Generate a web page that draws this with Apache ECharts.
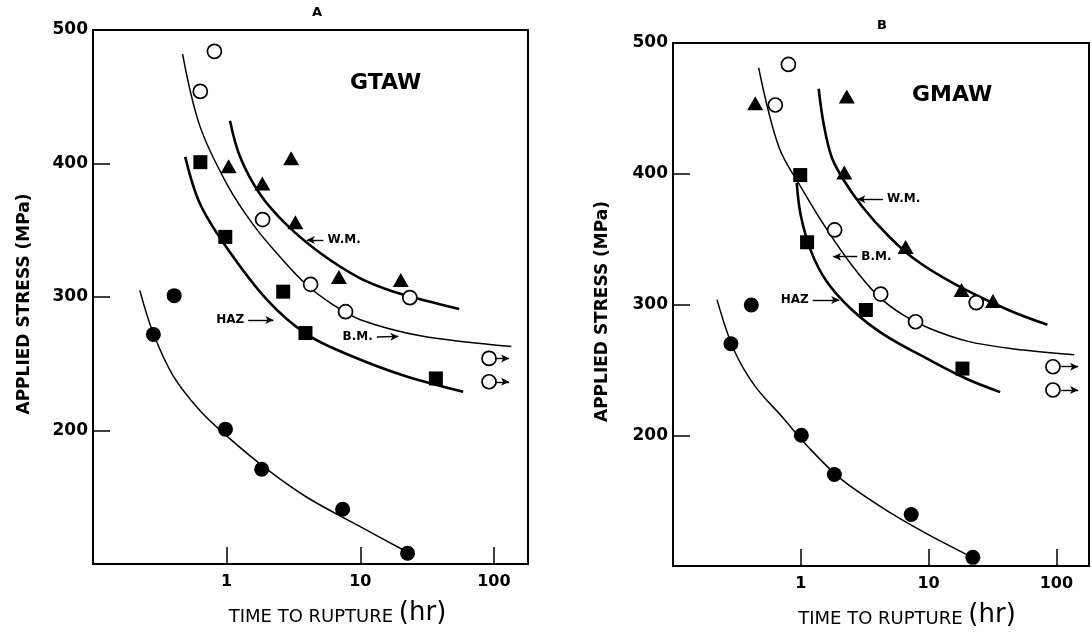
<!DOCTYPE html>
<html><head><meta charset="utf-8">
<script src="https://cdn.jsdelivr.net/npm/echarts@6/dist/echarts.min.js"></script>
<style>html,body{margin:0;padding:0;background:#fff}#c{width:1092px;height:635px}</style>
</head><body><div id="c"></div>
<script>
// ---------- tick labels ----------
const xTickLabels = [1, 10, 100];
const yTickLabels = [200, 300, 400, 500];
const panelTitles = ['A', 'B'];
const processNames = ['GTAW', 'GMAW'];

// ---------- Panel A (GTAW) : [time to rupture (hr), stress (MPa)] ----------
const aBaseMetal   = [[0.81,484],[0.635,454],[1.86,358],[4.25,309.5],[7.76,289],[23.5,299.5]];
const aBaseRunout  = [[92,254],[92,236.5]];
const aWeldMetal   = [[1.035,398],[3.04,404],[1.85,385],[3.27,356],[6.92,315],[20.1,312.7]];
const aHAZ         = [[0.636,401],[0.977,345],[2.65,304],[3.89,273],[36.8,239]];
const aFilled      = [[0.405,301],[0.283,272],[0.98,201],[1.83,171],[7.38,141],[22.6,108]];
const aHAZCurve    = [[0.49,405],[0.631,370],[1.0,337],[2.0,298],[3.98,272],[8.5,256],[21.4,241],[58.9,229]];
const aBaseCurve   = [[0.468,482],[0.631,428],[1.0,385],[1.585,354],[2.51,330],[3.98,309],[6.31,294],[10,283],[28.2,271],[135,263]];
const aWeldCurve   = [[1.06,432],[1.26,405],[1.78,377],[2.82,354],[5.01,333],[10,314],[17.8,304],[31.6,297],[55,291]];
const aFilledCurve = [[0.224,305],[0.282,273],[0.398,241],[0.631,215],[1.0,196],[2.0,171],[3.98,150],[10,128],[22.4,109]];
const aNotes = [
  {text:'W.M.', from:[5.3,342.7],  to:[3.98,342.7]},
  {text:'HAZ',  from:[1.45,282.8], to:[2.24,282.8]},
  {text:'B.M.', from:[13.3,270],   to:[19.3,270.5]},
  {text:'',     from:[102,254],    to:[130,254]},
  {text:'',     from:[102,236.5],  to:[130,236.5]}
];

// ---------- Panel B (GMAW) ----------
const bBaseMetal   = [[0.80,483.6],[0.632,452.6],[1.84,357],[4.22,308],[7.91,286.8],[23.6,301.4]];
const bBaseRunout  = [[94,252.4],[94,234.6]];
const bWeldMetal   = [[0.44,454],[2.29,459],[2.19,401],[6.61,344],[18.1,311],[31.9,302.7]];
const bHAZ         = [[0.99,399],[1.12,347.6],[3.23,295.8],[18.4,251]];
const bFilled      = [[0.41,299.6],[0.284,270],[1.01,200],[1.83,170],[7.31,139.4],[22.2,106.6]];
const bHAZCurve    = [[0.929,393],[1.0,368],[1.2,341],[1.585,318],[2.51,296],[4.47,277],[10,258],[20,243],[36.3,233]];
const bBaseCurve   = [[0.468,481],[0.676,420],[1.0,390],[1.585,358],[2.51,330],[3.98,307],[6.31,292],[10,282],[20,272],[46.8,266],[138,261.5]];
const bWeldCurve   = [[1.38,465],[1.51,438],[1.74,413],[2.14,396],[3.02,375],[4.9,352],[7.94,334],[15.8,316],[41.7,296],[85.1,284.5]];
const bFilledCurve = [[0.221,303.7],[0.299,265.6],[0.435,238],[0.716,214],[1.11,192.4],[2.07,166.5],[5.28,139.4],[9.87,124.2],[20.8,107.8]];
const bNotes = [
  {text:'W.M.', from:[4.4,380.5],  to:[2.77,380.5]},
  {text:'B.M.', from:[2.77,336.6], to:[1.79,336.6]},
  {text:'HAZ',  from:[1.24,303.4], to:[2.0,303.4]},
  {text:'',     from:[109,252.4],  to:[148,252.4]},
  {text:'',     from:[109,234.6],  to:[148,234.6]}
];

const FONT = 'DejaVu Sans';
const chart = echarts.init(document.getElementById('c'), null, {renderer:'canvas'});

const grids = [
  {left:93,  top:30, width:435, height:534, show:true, borderColor:'#000', borderWidth:2},
  {left:673, top:43, width:418, height:523, show:true, borderColor:'#000', borderWidth:2}
];

function xAxis(gi, padLeft){
  return {
    type:'log', logBase:10, gridIndex:gi, min:0.1, max:180,
    name:'{a|TIME TO RUPTURE }{b|(hr)}', nameLocation:'middle', nameGap:36,
    nameTextStyle:{padding:[0,0,0,padLeft], rich:{
      a:{fontFamily:FONT, fontSize:18, color:'#000', verticalAlign:'bottom'},
      b:{fontFamily:FONT, fontSize:26, color:'#000', verticalAlign:'bottom'}}},
    axisLine:{show:true, onZero:false, lineStyle:{color:'#000', width:2}},
    axisTick:{show:true, inside:true, length:17, lineStyle:{color:'#000', width:1.5}},
    minorTick:{show:false}, splitLine:{show:false},
    axisLabel:{margin:10, color:'#000', fontFamily:FONT, fontSize:16, fontWeight:'bold',
      formatter:function(v){ const t = xTickLabels.find(t => Math.abs(v - t)/t < 1e-3); return t ? String(t) : ''; }}
  };
}
function yAxis(gi, gap){
  return {
    type:'value', gridIndex:gi, min:100, max:500, interval:100,
    name:'APPLIED STRESS (MPa)', nameLocation:'middle', nameGap:gap,
    nameTextStyle:{fontFamily:FONT, fontSize:17, fontWeight:'bold', color:'#000', padding:[0,14,0,0]},
    axisLine:{show:true, onZero:false, lineStyle:{color:'#000', width:2}},
    axisTick:{show:true, inside:true, length:17, lineStyle:{color:'#000', width:1.5}},
    splitLine:{show:false},
    axisLabel:{margin:5, color:'#000', fontFamily:FONT, fontSize:17, fontWeight:'bold',
      formatter:function(v){ return yTickLabels.includes(Math.round(v)) ? String(Math.round(v)) : ''; }}
  };
}
function curve(data, gi, width){
  return {type:'line', xAxisIndex:gi, yAxisIndex:gi, data:data, smooth:0.35,
    symbol:'none', showSymbol:false, lineStyle:{color:'#000', width:width}, z:2, silent:true};
}
function points(data, gi, symbol, size, filled){
  return {type:'scatter', xAxisIndex:gi, yAxisIndex:gi, data:data, symbol:symbol, symbolSize:size, z:4, silent:true,
    itemStyle: filled ? {color:'#000', opacity:1} : {color:'#fff', borderColor:'#000', borderWidth:1.7, opacity:1}};
}
function notes(list, gi){
  return {type:'scatter', xAxisIndex:gi, yAxisIndex:gi, data:[], z:5, silent:true,
    markLine:{silent:true, symbol:['none','arrow'], symbolSize:[6,8], animation:false,
      lineStyle:{color:'#000', width:1.4, type:'solid', opacity:1},
      label:{show:false},
      data: list.map(n => [
        {coord:n.from, label: n.text ? {show:true, formatter:n.text, position:'start', distance:4,
          color:'#000', fontFamily:FONT, fontSize:12, fontWeight:'bold'} : {show:false}},
        {coord:n.to}
      ])}};
}
function panel(gi, d){
  return [
    curve(d.hazC, gi, 2.6), curve(d.baseC, gi, 1.5), curve(d.weldC, gi, 2.6), curve(d.filledC, gi, 1.5),
    points(d.filled, gi, 'circle', 15, true),
    points(d.haz, gi, 'rect', 14, true),
    points(d.weld, gi, 'triangle', [16,14], true),
    points(d.base.concat(d.runout), gi, 'circle', 14, false),
    notes(d.notes, gi)
  ];
}

const option = {
  animation:false,
  backgroundColor:'#fff',
  grid: grids,
  xAxis:[xAxis(0, 54), xAxis(1, 52)],
  yAxis:[yAxis(0, 60), yAxis(1, 62)],
  series: [].concat(
    panel(0, {hazC:aHAZCurve, baseC:aBaseCurve, weldC:aWeldCurve, filledC:aFilledCurve,
      filled:aFilled, haz:aHAZ, weld:aWeldMetal, base:aBaseMetal, runout:aBaseRunout, notes:aNotes}),
    panel(1, {hazC:bHAZCurve, baseC:bBaseCurve, weldC:bWeldCurve, filledC:bFilledCurve,
      filled:bFilled, haz:bHAZ, weld:bWeldMetal, base:bBaseMetal, runout:bBaseRunout, notes:bNotes})
  ),
  graphic:[
    {type:'text', left:312, top:6, style:{text:panelTitles[0], fontFamily:FONT, fontSize:13, fontWeight:'bold', fill:'#000'}},
    {type:'text', left:877, top:19, style:{text:panelTitles[1], fontFamily:FONT, fontSize:13, fontWeight:'bold', fill:'#000'}},
    {type:'text', left:350, top:72, style:{text:processNames[0], fontFamily:FONT, fontSize:22, fontWeight:'bold', fill:'#000'}},
    {type:'text', left:912, top:84, style:{text:processNames[1], fontFamily:FONT, fontSize:22, fontWeight:'bold', fill:'#000'}}
  ]
};
chart.setOption(option);
</script></body></html>
